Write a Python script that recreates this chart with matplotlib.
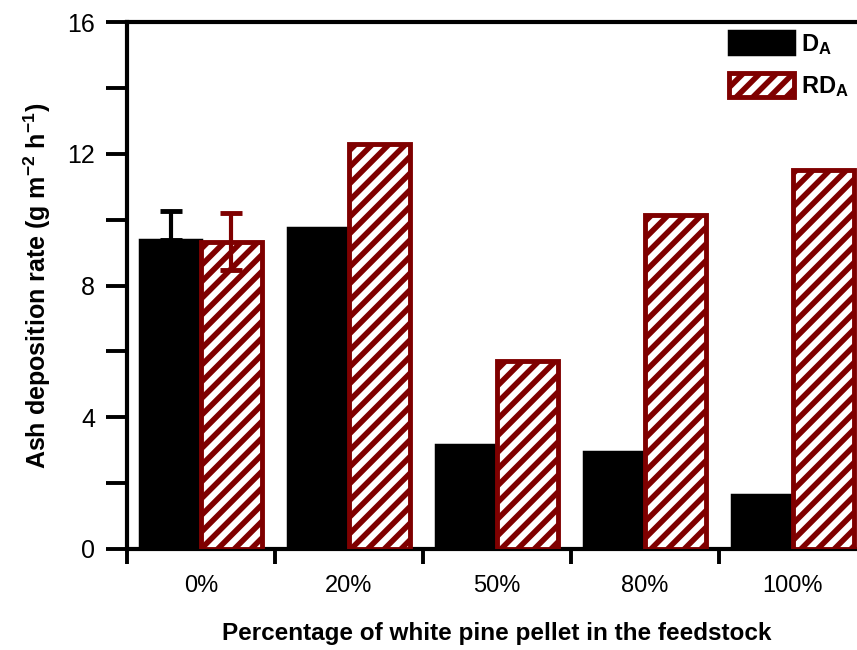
import matplotlib
matplotlib.use("Agg")
import matplotlib.pyplot as plt
import numpy as np

plt.rcParams['font.family'] = ['Liberation Sans', 'DejaVu Sans']
plt.rcParams['mathtext.fontset'] = 'custom'
plt.rcParams['mathtext.rm'] = 'Liberation Sans:bold'
plt.rcParams['mathtext.bf'] = 'Liberation Sans:bold'
plt.rcParams['mathtext.it'] = 'Liberation Sans:bold'
plt.rcParams['hatch.linewidth'] = 4.0

categories = ['0%', '20%', '50%', '80%', '100%']
d_a = [9.38, 9.74, 3.16, 2.94, 1.64]
rd_a = [9.33, 12.29, 5.71, 10.14, 11.50]
d_a_err = [0.87, 0, 0, 0, 0]
rd_a_err = [0.87, 0, 0, 0, 0]

dark_red = '#7f0000'

fig = plt.figure(figsize=(8.57, 6.5), dpi=100)
ax = fig.add_axes([127 / 857, 1 - 549 / 650, 740 / 857, 527 / 650])

x = np.arange(len(categories))
w = 0.41
ax.bar(x - w / 2, d_a, w, color='black', edgecolor='black', linewidth=2.5, zorder=3,
       label='D$_\\mathregular{A}$')
ax.bar(x + w / 2, rd_a, w, color='white', edgecolor=dark_red, hatch='//',
       linewidth=3.5, zorder=3, label='RD$_\\mathregular{A}$')

err_idx = [i for i in range(len(categories)) if d_a_err[i] > 0]
ax.errorbar([x[i] - w / 2 for i in err_idx], [d_a[i] for i in err_idx],
            yerr=[[0 for i in err_idx], [d_a_err[i] for i in err_idx]],
            fmt='none', ecolor='black', elinewidth=3, capsize=8, capthick=3.5, zorder=2)
ax.errorbar([x[i] + w / 2 for i in err_idx], [rd_a[i] for i in err_idx],
            yerr=[[rd_a_err[i] for i in err_idx], [rd_a_err[i] for i in err_idx]],
            fmt='none', ecolor=dark_red, elinewidth=3, capsize=8, capthick=3.5, zorder=4)

ax.set_xlim(-0.5, 4.5)
ax.set_ylim(0, 16)
ax.set_yticks([0, 4, 8, 12, 16])
ax.set_yticks([2, 6, 10, 14], minor=True)
ax.set_xticks(x)
ax.set_xticklabels(categories)
ax.set_xticks(np.arange(-0.5, 5.0, 1.0), minor=True)

for s in ax.spines.values():
    s.set_linewidth(3)

ax.tick_params(axis='y', which='major', direction='out', length=15, width=2.8,
               labelsize=18, pad=8)
ax.tick_params(axis='y', which='minor', direction='out', length=15, width=2.8)
ax.tick_params(axis='x', which='major', length=0, labelsize=17, pad=19)
ax.tick_params(axis='x', which='minor', direction='out', length=11, width=2.8)
ax.tick_params(top=False, right=False, which='both')

ax.set_ylabel('Ash deposition rate (g m$^{\\mathregular{-2}}$ h$^{\\mathregular{-1}}$)',
              fontsize=18, fontweight='bold', labelpad=10)
ax.set_xlabel('Percentage of white pine pellet in the feedstock',
              fontsize=17.5, fontweight='bold', labelpad=18)

leg = ax.legend(loc='upper left', bbox_to_anchor=(729 / 857, 1 - 31 / 650),
                bbox_transform=fig.transFigure, frameon=False,
                prop={'weight': 'bold', 'size': 17},
                handlelength=2.75, handleheight=1.15, handletextpad=0.3, labelspacing=0.7,
                borderpad=0, borderaxespad=0)

fig.savefig('out.png', dpi=100)
